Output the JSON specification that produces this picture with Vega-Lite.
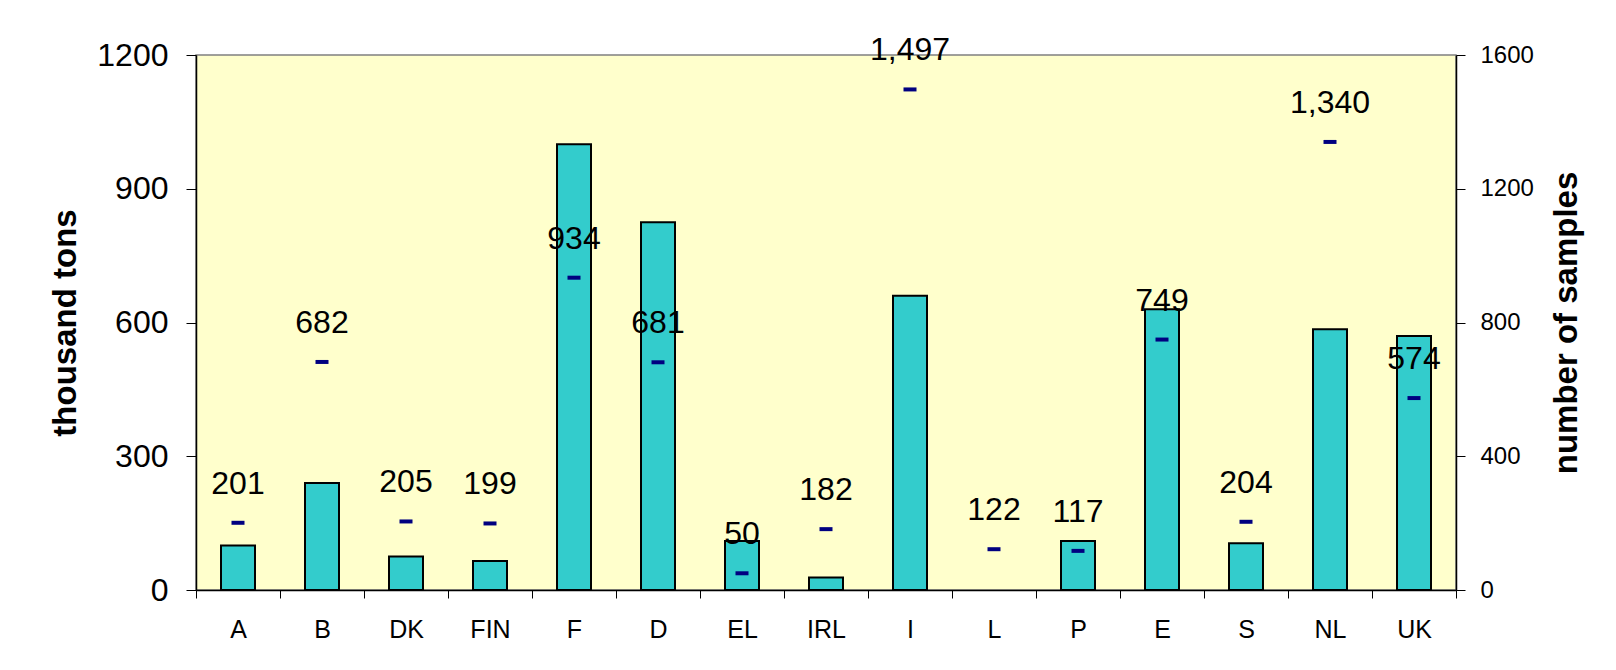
{
  "$schema": "https://vega.github.io/schema/vega-lite/v6.json",
  "width": 1260,
  "height": 535,
  "autosize": {"type": "none"},
  "padding": {"left": 196, "top": 55, "right": 160, "bottom": 80},
  "background": "white",
  "config": {
    "view": {"fill": "#FFFFCC", "stroke": "#808080", "strokeWidth": 1.5},
    "font": "Liberation Sans",
    "axis": {"labelColor": "black", "titleColor": "black", "domainColor": "black", "tickColor": "black", "grid": false, "labelFont": "Liberation Sans", "titleFont": "Liberation Sans"}
  },
  "data": {
    "values": [
      {"country": "A", "tons": 100, "samples": 201},
      {"country": "B", "tons": 240, "samples": 682},
      {"country": "DK", "tons": 75, "samples": 205},
      {"country": "FIN", "tons": 65, "samples": 199},
      {"country": "F", "tons": 1000, "samples": 934},
      {"country": "D", "tons": 825, "samples": 681},
      {"country": "EL", "tons": 110, "samples": 50},
      {"country": "IRL", "tons": 28, "samples": 182},
      {"country": "I", "tons": 660, "samples": 1497},
      {"country": "L", "tons": null, "samples": 122},
      {"country": "P", "tons": 110, "samples": 117},
      {"country": "E", "tons": 630, "samples": 749},
      {"country": "S", "tons": 105, "samples": 204},
      {"country": "NL", "tons": 585, "samples": 1340},
      {"country": "UK", "tons": 570, "samples": 574}
    ]
  },
  "encoding": {
    "x": {
      "field": "country",
      "type": "nominal",
      "sort": null,
      "scale": {"domain": ["A", "B", "DK", "FIN", "F", "D", "EL", "IRL", "I", "L", "P", "E", "S", "NL", "UK"], "paddingInner": 0, "paddingOuter": 0},
      "axis": {
        "title": null,
        "labelAngle": 0,
        "labelFontSize": 25,
        "labelPadding": 19,
        "tickSize": 8,
        "tickBand": "extent",
        "domainWidth": 1.5
      }
    }
  },
  "layer": [
    {
      "mark": {"type": "bar", "fill": "#33CCCC", "stroke": "black", "strokeWidth": 2, "size": 34},
      "encoding": {
        "y": {
          "field": "tons",
          "type": "quantitative",
          "scale": {"domain": [0, 1200], "nice": false},
          "axis": {
            "orient": "left",
            "values": [0, 300, 600, 900, 1200],
            "format": "d",
            "labelFontSize": 32,
            "tickSize": 10,
            "labelPadding": 18,
            "title": "thousand tons",
            "titleFontSize": 33,
            "titleFontWeight": "bold",
            "titlePadding": 14,
            "domainWidth": 1.5
          }
        }
      }
    },
    {
      "layer": [
        {
          "mark": {"type": "tick", "color": "#000080", "size": 13, "thickness": 4, "orient": "horizontal", "opacity": 1},
          "encoding": {
            "y": {
              "field": "samples",
              "type": "quantitative",
              "scale": {"domain": [0, 1600], "nice": false},
              "axis": {
                "orient": "right",
                "values": [0, 400, 800, 1200, 1600],
                "format": "d",
                "labelFontSize": 24,
                "tickSize": 9,
                "labelPadding": 15,
                "title": "number of samples",
                "titleFontSize": 33,
                "titleFontWeight": "bold",
                "titleAngle": 270,
                "titleBaseline": "top",
                "titlePadding": 17,
                "domainWidth": 1.5
              }
            }
          }
        },
        {
          "mark": {"type": "text", "fontSize": 32, "dy": -29, "baseline": "alphabetic", "color": "black"},
          "encoding": {
            "y": {"field": "samples", "type": "quantitative"},
            "text": {"field": "samples", "type": "quantitative", "format": ","}
          }
        }
      ]
    }
  ],
  "resolve": {"scale": {"y": "independent"}}
}
